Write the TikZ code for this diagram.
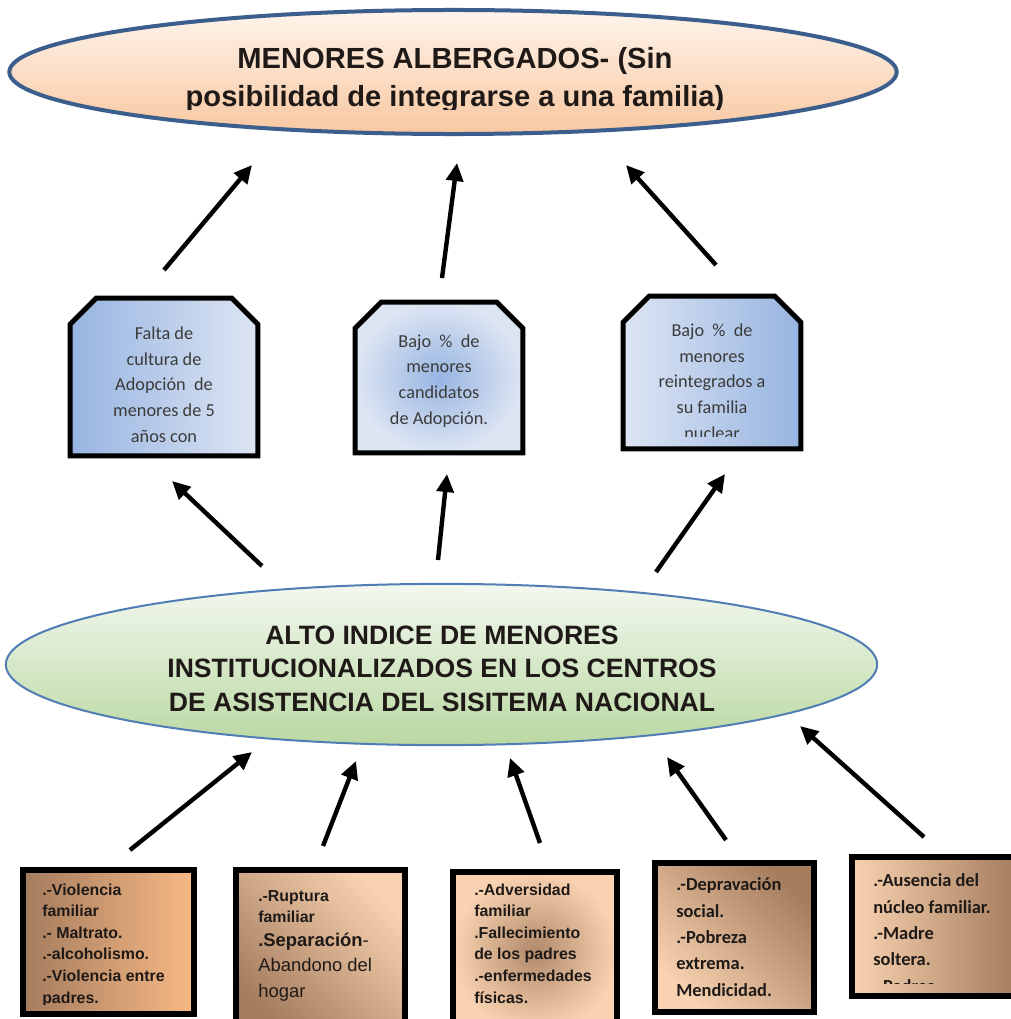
\documentclass[tikz,border=0pt]{standalone}
\usepackage{fontspec}
\setmainfont{Liberation Sans}
\newfontfamily\carlito{Carlito}
\usetikzlibrary{shapes.geometric,arrows.meta}

\definecolor{edgeblue}{HTML}{3B5E8C}
\definecolor{ringblue}{HTML}{4F7DB4}
\definecolor{peachtop}{HTML}{FEF4EC}
\definecolor{peachbot}{HTML}{F8C7A0}
\definecolor{greentop}{HTML}{F3F8EF}
\definecolor{greenbot}{HTML}{BAD8A3}
\definecolor{bluedark}{HTML}{97B4E1}
\definecolor{bluelight}{HTML}{DDE5F3}
\definecolor{browndark}{HTML}{A47C5E}
\definecolor{orangelight}{HTML}{F8B985}
\definecolor{peachlight}{HTML}{F9D3B1}
\definecolor{textdark}{HTML}{1F1A17}
\definecolor{textgrey}{HTML}{3B3B3B}

% cut the two top corners off a box node
\newcommand\cutbox[2]{\path[draw=black,line width=1.25mm,#2]
  (#1.south west) -- ([yshift=-6.5mm]#1.north west) -- ([xshift=6.5mm]#1.north west)
  -- ([xshift=-6.5mm]#1.north east) -- ([yshift=-6.5mm]#1.north east) -- (#1.south east) -- cycle;}

\tikzset{
  arr/.style={line width=1.1mm,-{Triangle[length=4.5mm,width=4.2mm]}},
  midbox/.style={rectangle,inner sep=0pt},
  botbox/.style={rectangle,draw=black,line width=1.5mm,inner sep=0pt},
  titletext/.style={anchor=base,align=center,inner sep=0pt,text=textdark},
  midtext/.style={anchor=base,align=center,inner sep=0pt,text=textgrey,
    font=\carlito\fontsize{13}{18.2}\selectfont},
  bottext/.style={anchor=base west,align=left,inner sep=0pt,text=textdark,
    font=\bfseries\fontsize{11.3}{15.3}\selectfont},
  calitext/.style={anchor=base west,align=left,inner sep=0pt,text=textdark,
    font=\carlito\bfseries\fontsize{13.1}{18.7}\selectfont}
}

\begin{document}
\begin{tikzpicture}[x=0.025cm,y=-0.025cm]
  \useasboundingbox (0,0) rectangle (1011,1019);

  \node[ellipse,draw=edgeblue,line width=1mm,top color=peachtop,bottom color=peachbot,
    minimum width=22.18cm,minimum height=3.1cm,inner sep=0pt] (albergados) at (453,72) {};
  \begin{scope}
    \clip (albergados.west |- 0,20) rectangle (albergados.east |- 0,109);
    \node[titletext,font=\bfseries\fontsize{20.7}{27}\selectfont] (albergadost) at (455,106)
      {MENORES ALBERGADOS- (Sin\\posibilidad de integrarse a una familia)};
  \end{scope}

  \node[midbox,minimum width=4.675cm,minimum height=3.925cm] (cultura) at (164,377) {};
  \cutbox{cultura}{left color=bluedark,right color=bluelight}
  \node[midtext] (culturat) at (164,442)
    {Falta de\\cultura de\\Adopción\ \ de\\menores de 5\\años con};

  \node[midbox,minimum width=4.175cm,minimum height=3.75cm] (candidatos) at (439,377.5) {};
  \cutbox{candidatos}{inner color=bluedark,outer color=bluelight}
  \node[midtext] (candidatost) at (439,424)
    {Bajo\ \ \%\ \ de\\menores\\candidatos\\de Adopción.};

  \node[midbox,minimum width=4.425cm,minimum height=3.8cm] (reintegrados) at (712,372.5) {};
  \cutbox{reintegrados}{left color=bluelight,right color=bluedark}
  \begin{scope}
    \clip (reintegrados.west |- reintegrados.north) rectangle (reintegrados.east |- 0,436);
    \node[midtext] (reintegradost) at (712,439)
      {Bajo\ \ \%\ \ de\\menores\\reintegrados a\\su familia\\nuclear};
  \end{scope}

  \node[ellipse,draw=ringblue,line width=0.5mm,top color=greentop,bottom color=greenbot,
    minimum width=21.78cm,minimum height=4.03cm,inner sep=0pt] (indice) at (441.5,664.5) {};
  \begin{scope}
    \clip (indice.west |- 0,600) rectangle (indice.east |- 0,712);
    \node[titletext,font=\bfseries\fontsize{18.9}{23.8}\selectfont] (indicet) at (442,711)
      {ALTO INDICE DE MENORES\\INSTITUCIONALIZADOS EN LOS CENTROS\\DE ASISTENCIA DEL SISITEMA NACIONAL};
  \end{scope}

  \node[botbox,left color=browndark,right color=orangelight,
    minimum width=4.275cm,minimum height=3.6cm] (violencia) at (108.5,942) {};
  \begin{scope}
    \clip (violencia.north west) rectangle (violencia.east |- 0,1004);
    \node[bottext] (violenciat) at (42,1003)
      {.-Violencia\\familiar\\.- Maltrato.\\.-alcoholismo.\\.-Violencia entre\\padres.};
  \end{scope}

  \node[botbox,left color=browndark,right color=peachlight,shading angle=135,
    minimum width=4.225cm,minimum height=4.05cm] (ruptura) at (320.5,951) {};
  \node[bottext] (rupturat) at (258,997)
    {.-Ruptura\\familiar\\[2pt]{\fontsize{13.1}{16}\selectfont .Separación\mdseries-}\\[2.5pt]
     {\mdseries\fontsize{13.1}{16}\selectfont Abandono del}\\[2.5pt]
     {\mdseries\fontsize{13.1}{16}\selectfont hogar}};

  \node[botbox,inner color=browndark!85!peachlight,outer color=peachlight,
    minimum width=4.1cm,minimum height=4cm] (adversidad) at (535,952) {};
  \node[bottext] (adversidadt) at (474,1003)
    {.-Adversidad\\familiar\\.Fallecimiento\\de los padres\\.-enfermedades\\físicas.};

  \node[botbox,left color=peachlight,right color=browndark,shading angle=135,
    minimum width=3.975cm,minimum height=3.725cm] (depravacion) at (734.5,937.5) {};
  \node[calitext] (depravaciont) at (676,996)
    {.-Depravación\\social.\\.-Pobreza\\extrema.\\Mendicidad.};

  \node[botbox,left color=peachlight,right color=browndark,
    minimum width=4.125cm,minimum height=3.475cm] (ausencia) at (934.5,926.5) {};
  \begin{scope}
    \clip (ausencia.north west) rectangle (ausencia.east |- 0,983);
    \node[calitext] (ausenciat) at (873,992)
      {.-Ausencia del\\núcleo familiar.\\.-Madre\\soltera.\\.-Padres};
  \end{scope}

  \foreach \n/\xa/\ya/\xb/\yb in {up1/164/270/252/165,up2/442/278/457/163,up3/716/265/626/165,
      mid1/262/566/172/481,mid2/438/560/447/474,mid3/656/572/725/474,
      low1/130/850/252/752,low2/323/846/356/761,low3/540/843/510/758,
      low4/726/840/667/757,low5/924/837/800/726}{
    \coordinate (\n-s) at (\xa,\ya);
    \coordinate (\n-e) at (\xb,\yb);
    \draw[arr] (\n-s) -- (\n-e);
  }
\end{tikzpicture}
\end{document}
